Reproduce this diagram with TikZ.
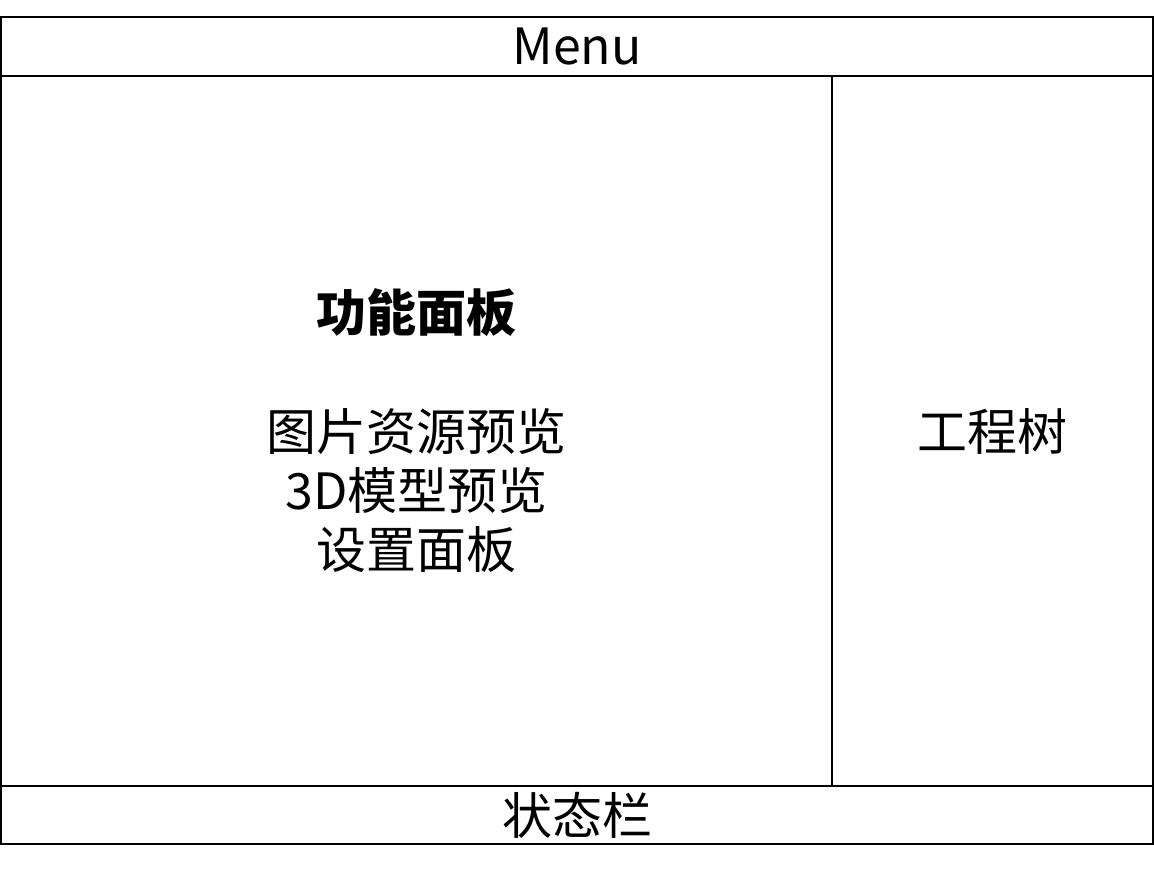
\documentclass[tikz,border=0pt]{standalone}
\usepackage{fontspec}
\setmainfont{Noto Sans CJK SC}
\newcommand{\bigtext}{\fontsize{50}{59}\selectfont}

\begin{document}
\begin{tikzpicture}[x=1pt,y=-1pt,
  panel/.style={draw,line width=2pt,rectangle,inner sep=0pt,outer sep=0pt,
    align=center,font=\bigtext}]
  \useasboundingbox (0,0) rectangle (1154,875);
  \node[panel,minimum width=1152pt,minimum height=59pt] (menu) at (577,46.5) {Menu};
  \node[panel,minimum width=831pt,minimum height=710pt] (func) at (416.5,431)
    {\textbf{功能面板}\\[60pt]图片资源预览\\3D模型预览\\设置面板};
  \node[panel,minimum width=321pt,minimum height=710pt] (tree) at (992.5,431) {工程树};
  \node[panel,minimum width=1152pt,minimum height=58pt] (status) at (577,815) {状态栏};
\end{tikzpicture}
\end{document}
